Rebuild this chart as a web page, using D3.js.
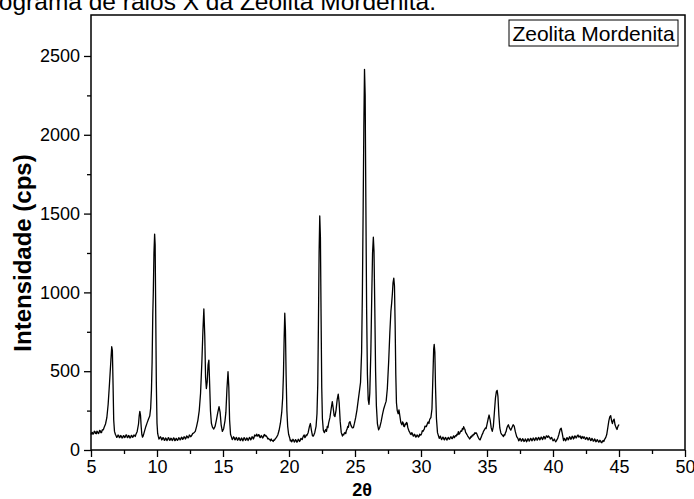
<!DOCTYPE html>
<html>
<head>
<meta charset="utf-8">
<script src="https://cdn.jsdelivr.net/npm/d3@7"></script>
<style>
  body { margin: 0; background: #fff; }
  svg { display: block; }
  text { font-family: "Liberation Sans", Arial, Helvetica, sans-serif; fill: #000; }
</style>
</head>
<body>
<svg id="chart" width="694" height="499"></svg>
<script>
// Labels
const chartTitle = "Difratograma de raios X da Zeolita Mordenita.";
const seriesName = "Zeolita Mordenita";
const xLabel = "2θ";
const yLabel = "Intensidade (cps)";

// Axis ticks
const xTicks = [5, 10, 15, 20, 25, 30, 35, 40, 45, 50];
const xMinorTicks = [7.5, 12.5, 17.5, 22.5, 27.5, 32.5, 37.5, 42.5, 47.5];
const yTicks = [0, 500, 1000, 1500, 2000, 2500];
const yMinorTicks = [250, 750, 1250, 1750, 2250];

// Diffraction scan: [2θ (deg), intensity (cps)]
const scan = [
  [5.0,98],[5.05,108],[5.1,112],[5.15,100],[5.2,104],[5.25,119],[5.3,117],[5.35,105],[5.4,103],[5.45,120],[5.5,115],[5.55,104],[5.6,108],[5.65,124],[5.7,122],[5.75,110],[5.8,111],[5.85,128],[5.9,126],[5.95,132],
  [6.0,145],[6.1,165],[6.2,205],[6.3,290],[6.4,420],[6.5,560],[6.57,655],[6.62,630],[6.67,420],[6.72,190],
  [6.78,118],[6.85,98],[6.9,90],[6.95,80],[7.0,84],[7.05,95],[7.1,92],[7.15,78],[7.2,81],[7.25,92],[7.3,88],[7.35,76],[7.4,78],[7.45,91],[7.5,90],[7.55,79],[7.6,83],
  [7.65,96],[7.7,94],[7.75,78],[7.8,80],[7.85,92],[7.9,87],[7.95,76],[8.0,79],[8.05,93],[8.1,91],[8.15,80],[8.2,84],[8.25,95],[8.3,93],[8.35,86],[8.4,98],[8.5,118],[8.6,165],
  [8.65,215],[8.7,245],[8.75,222],[8.8,150],[8.85,100],[8.9,82],[8.95,88],[9.05,118],[9.15,148],[9.25,172],
  [9.35,195],[9.45,215],[9.52,265],[9.58,380],[9.63,560],[9.68,860],[9.72,1000],[9.77,1250],[9.82,1370],[9.86,1300],
  [9.9,900],[9.95,420],[10.0,170],[10.05,105],[10.1,86],[10.15,70],[10.2,74],[10.25,84],[10.3,80],[10.35,64],[10.4,68],[10.45,79],[10.5,75],[10.55,61],[10.6,64],
  [10.65,76],[10.7,72],[10.75,60],[10.8,66],[10.85,78],[10.9,76],[10.95,62],[11.0,63],[11.05,75],[11.1,71],[11.15,60],[11.2,65],[11.25,77],[11.3,74],[11.35,59],[11.4,62],[11.45,74],[11.5,70],[11.55,61],[11.6,66],
  [11.65,78],[11.7,75],[11.75,64],[11.8,68],[11.85,81],[11.9,79],[11.95,67],[12.0,72],[12.05,84],[12.1,82],[12.15,70],[12.2,75],[12.25,89],[12.3,86],[12.35,77],[12.4,80],[12.45,95],[12.5,92],[12.55,84],[12.6,88],
  [12.7,104],[12.8,110],[12.9,118],[13.0,150],[13.1,190],[13.2,250],[13.3,360],[13.4,560],[13.48,760],[13.55,895],
  [13.62,720],[13.68,460],[13.74,390],[13.8,430],[13.87,540],[13.93,570],[13.98,440],[14.05,250],[14.12,170],[14.2,145],
  [14.3,133],[14.4,150],[14.5,190],[14.6,235],[14.7,275],[14.78,240],[14.86,160],[14.95,118],[15.05,135],[15.15,185],
  [15.22,240],[15.3,390],[15.38,497],[15.44,400],[15.5,190],[15.57,100],[15.65,80],[15.7,66],[15.75,72],[15.8,84],[15.85,78],[15.9,64],[15.95,68],
  [16.0,80],[16.05,75],[16.1,62],[16.15,66],[16.2,78],[16.25,73],[16.3,60],[16.35,64],[16.4,76],[16.45,71],[16.5,58],[16.55,67],[16.6,79],[16.65,74],[16.7,61],[16.75,65],[16.8,77],[16.85,72],[16.9,60],[16.95,68],
  [17.0,80],[17.05,76],[17.1,64],[17.15,70],[17.2,84],[17.25,82],[17.3,70],[17.35,78],[17.4,95],[17.45,92],[17.5,88],[17.55,101],[17.6,90],[17.65,88],[17.7,98],[17.75,94],[17.8,78],[17.85,80],[17.9,92],[17.95,86],
  [18.0,76],[18.05,82],[18.1,95],[18.15,98],[18.2,88],[18.25,92],[18.3,86],[18.35,80],[18.4,70],[18.45,74],[18.5,68],[18.55,66],[18.6,58],[18.65,70],[18.7,62],[18.75,60],[18.8,54],[18.85,64],[18.9,62],[18.95,70],
  [19.05,80],[19.15,95],[19.25,125],[19.35,170],[19.45,240],[19.52,330],[19.58,480],[19.63,700],[19.68,868],[19.73,760],
  [19.78,480],[19.84,250],[19.9,150],[19.97,100],[20.05,78],[20.1,58],[20.15,64],[20.2,52],[20.25,58],[20.3,68],[20.35,62],[20.4,50],[20.45,55],[20.5,66],[20.55,60],
  [20.6,49],[20.65,56],[20.7,68],[20.75,64],[20.8,54],[20.85,60],[20.9,74],[20.95,70],[21.0,66],[21.05,80],[21.1,90],[21.15,95],[21.2,78],[21.25,84],[21.3,96],[21.35,92],[21.45,110],[21.55,150],
  [21.62,168],[21.7,125],[21.78,90],[21.85,88],[21.95,110],[22.05,150],[22.12,230],[22.18,420],[22.23,800],[22.28,1250],
  [22.33,1485],[22.38,1350],[22.43,850],[22.48,400],[22.53,200],[22.6,125],[22.68,110],[22.73,122],[22.78,130],[22.84,118],[22.9,150],[22.95,142],[23.0,170],
  [23.1,205],[23.2,265],[23.28,307],[23.35,265],[23.42,218],[23.48,212],[23.56,250],[23.65,320],[23.73,355],[23.8,300],
  [23.88,180],[23.96,110],[24.05,88],[24.1,100],[24.15,96],[24.2,108],[24.25,112],[24.3,104],[24.35,125],[24.4,132],[24.45,150],[24.5,144],[24.55,172],[24.62,180],[24.7,155],
  [24.8,140],[24.88,142],[24.96,170],[25.05,205],[25.15,255],[25.25,320],[25.33,370],[25.42,430],[25.5,620],[25.56,1000],
  [25.62,1550],[25.67,2050],[25.72,2415],[25.77,2250],[25.82,1600],[25.88,900],[25.94,480],[26.0,320],[26.06,290],[26.12,360],
  [26.2,620],[26.27,980],[26.33,1250],[26.39,1350],[26.44,1260],[26.5,900],[26.56,500],[26.62,280],[26.7,165],[26.79,128],
  [26.88,145],[26.98,180],[27.08,225],[27.18,262],[27.27,286],[27.36,310],[27.45,390],[27.55,560],[27.64,745],[27.72,880],
  [27.78,935],[27.83,990],[27.88,1060],[27.94,1090],[27.99,1040],[28.04,800],[28.09,480],[28.14,300],[28.2,250],[28.27,230],
  [28.33,255],[28.4,215],[28.47,175],[28.55,160],[28.6,178],[28.65,172],[28.7,150],[28.75,148],[28.8,166],[28.85,162],[28.9,175],[28.95,170],[29.0,142],[29.05,130],[29.1,118],[29.15,112],
  [29.2,102],[29.25,98],[29.3,110],[29.35,104],[29.4,90],[29.45,88],[29.5,100],[29.55,96],[29.6,82],[29.65,84],[29.7,96],[29.75,92],[29.8,82],[29.85,86],[29.9,100],[29.95,95],[30.0,96],[30.05,105],[30.1,122],[30.15,118],
  [30.2,126],[30.25,132],[30.3,152],[30.35,150],[30.4,148],[30.45,158],[30.5,172],[30.55,178],[30.6,168],[30.65,192],[30.7,200],[30.75,205],[30.83,260],[30.9,460],[30.96,640],[31.0,670],
  [31.05,620],[31.1,400],[31.17,200],[31.25,110],[31.33,88],[31.38,74],[31.42,80],[31.47,88],[31.52,72],[31.57,66],[31.62,78],[31.67,82],[31.72,70],[31.77,64],[31.82,76],
  [31.87,80],[31.92,68],[31.97,63],[32.02,74],[32.07,80],[32.12,70],[32.17,68],[32.22,80],[32.27,84],[32.32,74],[32.37,72],[32.42,82],[32.47,90],[32.52,78],[32.57,84],[32.62,92],[32.67,88],[32.72,100],[32.77,96],[32.83,116],
  [32.88,100],[32.93,104],[32.98,116],[33.03,122],[33.08,118],[33.13,135],[33.18,130],[33.23,148],[33.28,138],[33.33,130],[33.38,112],[33.43,105],[33.48,98],[33.53,90],[33.58,84],[33.63,78],[33.68,70],[33.73,74],[33.78,86],[33.83,82],
  [33.88,94],[33.93,90],[33.98,100],[34.03,98],[34.08,110],[34.13,106],[34.2,108],[34.3,88],[34.35,78],[34.4,70],[34.48,64],[34.53,76],[34.58,85],[34.63,98],[34.68,105],[34.73,118],[34.78,125],
  [34.83,132],[34.88,140],[34.93,136],[34.98,155],[35.08,195],[35.16,222],[35.24,190],[35.32,140],[35.4,118],[35.48,150],[35.56,240],[35.64,330],
  [35.71,370],[35.77,378],[35.83,340],[35.9,220],[35.97,140],[36.05,108],[36.1,100],[36.15,96],[36.2,90],[36.25,86],[36.3,98],[36.35,95],[36.4,110],[36.45,118],
  [36.5,138],[36.55,150],[36.62,160],[36.7,140],[36.8,126],[36.9,145],[36.98,160],[37.06,152],[37.15,115],[37.25,85],[37.35,72],
  [37.4,58],[37.45,63],[37.5,74],[37.55,68],[37.6,56],[37.65,60],[37.7,72],[37.75,66],[37.8,54],[37.85,58],[37.9,70],[37.95,64],[38.0,52],[38.05,60],[38.1,72],[38.15,67],[38.2,56],[38.25,62],[38.3,74],[38.35,70],
  [38.4,58],[38.45,64],[38.5,76],[38.55,72],[38.6,60],[38.65,66],[38.7,78],[38.75,74],[38.8,62],[38.85,68],[38.9,80],[38.95,76],[39.0,64],[39.05,70],[39.1,82],[39.15,79],[39.2,66],[39.25,72],[39.3,86],[39.35,82],
  [39.4,70],[39.45,78],[39.5,90],[39.55,86],[39.6,80],[39.65,90],[39.7,84],[39.75,80],[39.8,70],[39.85,74],[39.9,80],[39.95,68],[40.0,58],[40.05,62],[40.1,70],[40.15,60],[40.2,52],[40.25,58],[40.3,66],[40.35,72],
  [40.45,100],[40.55,132],[40.62,138],[40.7,105],[40.8,60],[40.85,74],[40.9,70],[40.95,58],[41.0,64],[41.05,78],[41.1,76],[41.15,64],[41.2,70],[41.25,84],[41.3,80],[41.35,68],
  [41.4,74],[41.45,88],[41.5,84],[41.55,70],[41.6,76],[41.65,90],[41.7,86],[41.75,76],[41.8,82],[41.85,92],[41.9,95],[41.95,82],[42.0,84],[42.05,90],[42.1,78],[42.15,72],[42.2,86],[42.25,80],[42.3,74],[42.35,84],
  [42.4,80],[42.45,68],[42.5,70],[42.55,80],[42.6,76],[42.65,64],[42.7,66],[42.75,78],[42.8,72],[42.85,60],[42.9,62],[42.95,74],[43.0,68],[43.05,56],[43.1,58],[43.15,70],[43.2,64],[43.25,52],[43.3,55],[43.35,66],
  [43.4,60],[43.45,50],[43.5,52],[43.55,62],[43.6,58],[43.65,48],[43.7,46],[43.75,56],[43.8,60],[43.85,54],[43.9,66],[44.0,80],[44.07,98],[44.15,140],[44.23,185],
  [44.3,210],[44.37,218],[44.44,185],[44.5,168],[44.57,190],[44.63,196],[44.7,160],[44.78,142],[44.85,130],[44.92,150],
  [45.0,162]
];

const svg = d3.select("#chart");

const x = d3.scaleLinear().domain([5, 50]).range([91, 685]);
const y = d3.scaleLinear().domain([0, 2760]).range([450, 15]);

// Title (runs past the left edge of the page)
svg.append("text")
  .attr("x", 436).attr("y", 10)
  .attr("text-anchor", "end")
  .style("font-size", "24.5px")
  .text(chartTitle);

// Plot frame
svg.append("rect")
  .attr("x", x(5)).attr("y", y(2760))
  .attr("width", x(50) - x(5)).attr("height", y(0) - y(2760))
  .attr("fill", "none").attr("stroke", "#000").attr("stroke-width", 1.5);

// Minor ticks
const xMinor = svg.append("g").attr("transform", `translate(0,${y(0)})`)
  .call(d3.axisBottom(x).tickValues(xMinorTicks).tickSize(4).tickSizeOuter(0).tickFormat(""));
const yMinor = svg.append("g").attr("transform", `translate(${x(5)},0)`)
  .call(d3.axisLeft(y).tickValues(yMinorTicks).tickSize(4).tickSizeOuter(0).tickFormat(""));
[xMinor, yMinor].forEach(g => g.select(".domain").remove());

// Major ticks and labels
const xAxis = svg.append("g").attr("transform", `translate(0,${y(0)})`)
  .call(d3.axisBottom(x).tickValues(xTicks).tickSize(7).tickSizeOuter(0).tickPadding(3).tickFormat(d3.format("d")));
const yAxis = svg.append("g").attr("transform", `translate(${x(5)},0)`)
  .call(d3.axisLeft(y).tickValues(yTicks).tickSize(7).tickSizeOuter(0).tickPadding(4).tickFormat(d3.format("d")));
[xAxis, yAxis].forEach(g => {
  g.select(".domain").remove();
  g.selectAll("text").style("font-size", "18px").style("font-family", "\"Liberation Sans\", Arial, sans-serif").attr("fill", "#000");
});
svg.selectAll(".tick line").attr("stroke", "#000").attr("stroke-width", 1.3);

// Axis titles
svg.append("text")
  .attr("x", 362).attr("y", 496)
  .attr("text-anchor", "middle")
  .style("font-size", "18px").style("font-weight", "bold")
  .text(xLabel);

svg.append("text")
  .attr("transform", "translate(31,253) rotate(-90)")
  .attr("text-anchor", "middle")
  .style("font-size", "24px").style("font-weight", "bold")
  .text(yLabel);

// Diffraction pattern
const line = d3.line().x(d => x(d[0])).y(d => y(d[1]));
svg.append("path")
  .datum(scan)
  .attr("fill", "none")
  .attr("stroke", "#000")
  .attr("stroke-width", 1.3)
  .attr("stroke-linejoin", "round")
  .attr("d", line);

// Legend box
const legend = svg.append("g");
legend.append("rect")
  .attr("x", 509).attr("y", 20).attr("width", 169).attr("height", 26)
  .attr("fill", "#fff").attr("stroke", "#000").attr("stroke-width", 1);
legend.append("text")
  .attr("x", 593.5).attr("y", 41)
  .attr("text-anchor", "middle")
  .style("font-size", "21px")
  .text(seriesName);
</script>
</body>
</html>
